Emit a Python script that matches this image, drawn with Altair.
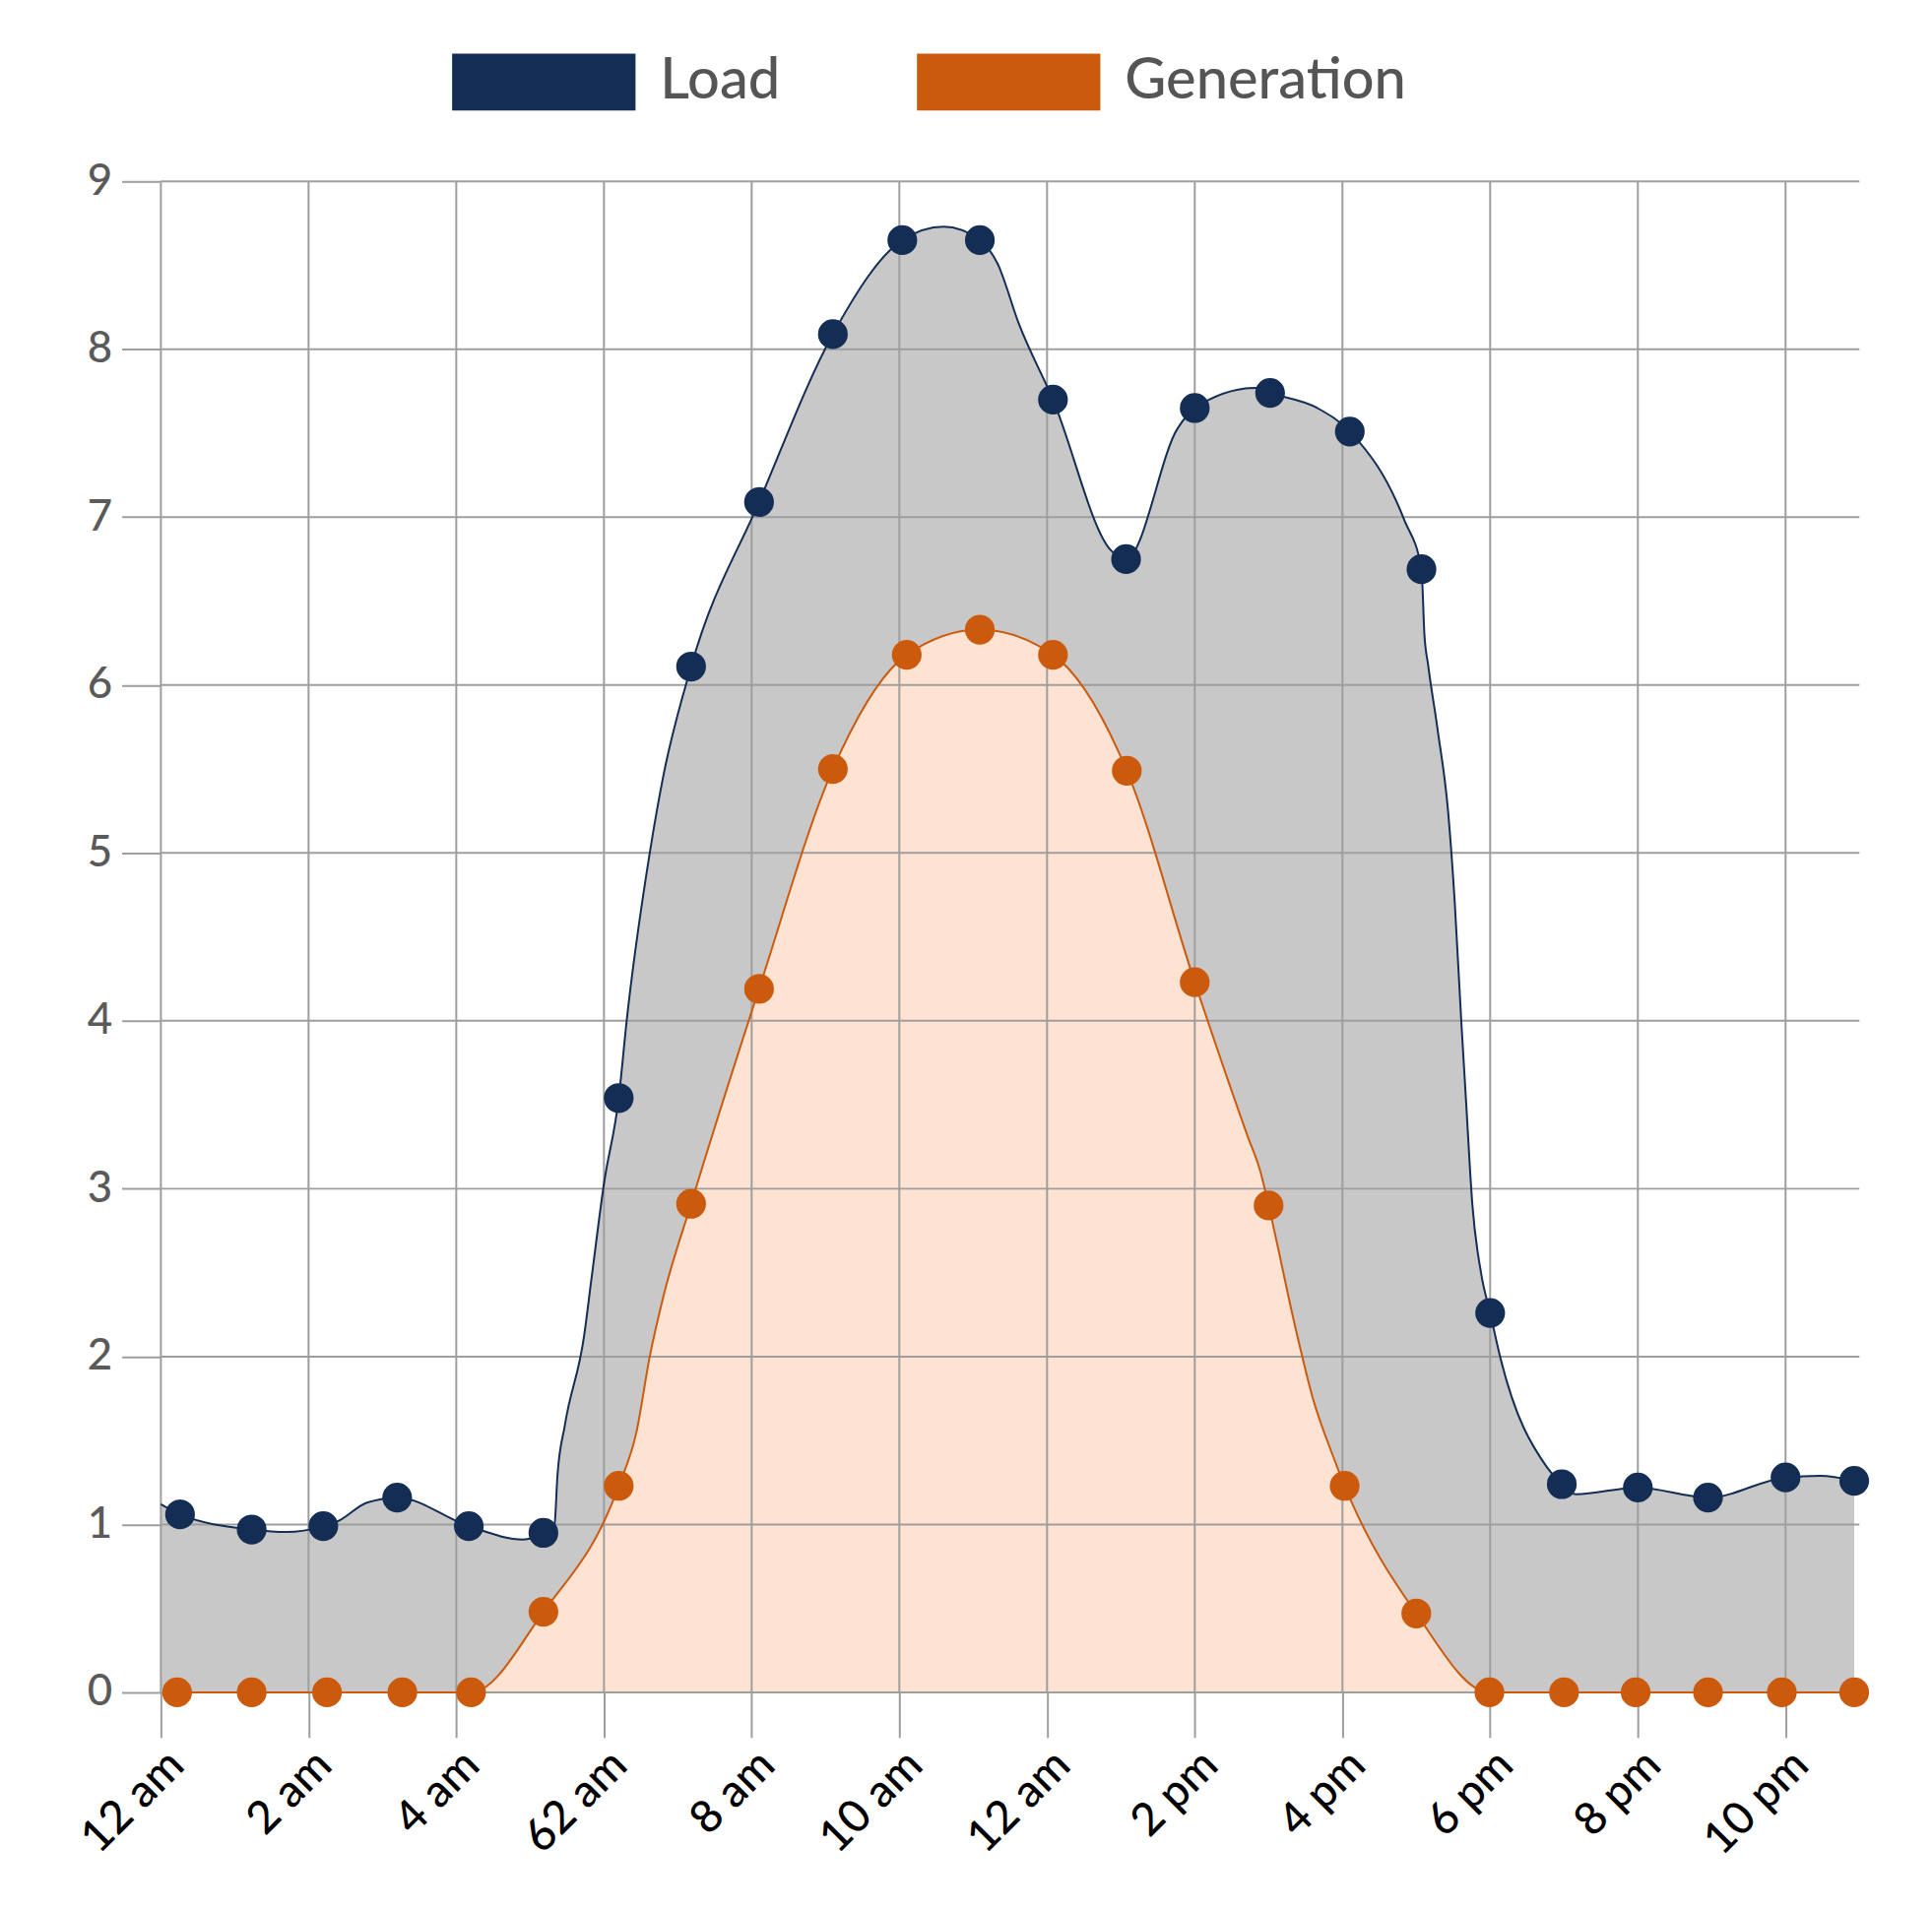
import json
import altair as alt
import pandas as pd

# ---------------- data ----------------
series_names = ["Load", "Generation"]

# hourly markers
load_hours = [0.26, 1.23, 2.2, 3.2, 4.17, 5.18, 6.2, 7.18, 8.1, 9.1, 10.04, 11.09,
              12.08, 13.07, 14.0, 15.02, 16.1, 17.07, 18.0, 18.97, 20.0, 20.95, 22.0, 22.93]
load_values = [1.06, 0.97, 0.99, 1.16, 0.99, 0.95, 3.54, 6.11, 7.09, 8.09, 8.65, 8.65,
               7.70, 6.75, 7.65, 7.74, 7.51, 6.69, 2.26, 1.24, 1.22, 1.16, 1.28, 1.26]

gen_hours = [0.22, 1.23, 2.25, 3.27, 4.2, 5.18, 6.2, 7.18, 8.1, 9.1, 10.1, 11.09,
             12.08, 13.08, 14.0, 15.0, 16.03, 17.0, 17.99, 19.0, 19.97, 20.95, 21.95, 22.93]
gen_values = [0, 0, 0, 0, 0, 0.48, 1.23, 2.91, 4.19, 5.5, 6.18, 6.33,
              6.18, 5.49, 4.23, 2.9, 1.23, 0.47, 0, 0, 0, 0, 0, 0]

# traced curve (denser than the markers)
load_curve_h = [0.0, 0.26, 1.23, 1.7, 2.2, 2.4, 2.79, 3.2, 4.17, 4.9, 5.18, 5.33, 5.37,
                5.47, 5.73, 5.83, 6.0, 6.2, 6.31, 6.62, 6.8, 7.18, 8.1, 9.1, 10.04,
                10.6, 11.09, 11.33, 11.62, 12.08, 12.87, 13.07, 13.77, 14.0, 14.83,
                15.02, 15.66, 16.1, 16.84, 17.07, 17.11, 17.16, 17.29, 17.43, 17.52,
                17.61, 17.67, 17.76, 17.88, 18.0, 18.14, 18.77, 18.97, 19.16, 20.0,
                20.95, 22.0, 22.47, 22.93]
load_curve_v = [1.12, 1.06, 0.97, 0.955, 0.99, 1.02, 1.13, 1.16, 0.99, 0.91, 0.95, 1.0, 1.29,
                1.59, 2.12, 2.46, 3.03, 3.54, 4.01, 5.0, 5.45, 6.11, 7.09, 8.09, 8.65,
                8.73, 8.65, 8.51, 8.15, 7.70, 6.8, 6.75, 7.53, 7.65, 7.77,
                7.74, 7.65, 7.51, 6.98, 6.69, 6.30, 6.12, 5.73, 5.25, 4.71,
                3.99, 3.55, 2.9, 2.49, 2.26, 1.99, 1.34, 1.24, 1.18, 1.22,
                1.16, 1.28, 1.29, 1.26]

gen_curve_h = [0.22, 1.23, 2.25, 3.27, 4.2, 5.18, 6.2, 6.44, 6.62, 6.8, 7.18, 8.1, 9.1,
               10.1, 11.09, 12.08, 13.08, 14.0, 14.71, 14.89, 15.0, 15.38, 15.6, 15.87,
               16.03, 17.0, 17.99, 19.0, 19.97, 20.95, 21.95, 22.93]
gen_curve_v = [0, 0, 0, 0, 0, 0.48, 1.23, 1.55, 2.0, 2.35, 2.91, 4.19, 5.5,
               6.18, 6.33, 6.18, 5.49, 4.23, 3.32, 3.1, 2.9, 2.14, 1.75, 1.41,
               1.23, 0.47, 0, 0, 0, 0, 0, 0]

x_ticks = [0, 2, 4, 6, 8, 10, 12, 14, 16, 18, 20, 22]
x_tick_labels = ["12 am", "2 am", "4 am", "62 am", "8 am", "10 am", "12 am",
                 "2 pm", "4 pm", "6 pm", "8 pm", "10 pm"]
y_ticks = [0, 1, 2, 3, 4, 5, 6, 7, 8, 9]

# ---------------- styling ----------------
NAVY = "#142d55"
ORANGE = "#cc5a0d"
GRAY_FILL = "#c8c8c8"
PEACH_FILL = "#fee3d3"
GRID = "#9e9e9e"
FONT = "Lato"
W, H = 1732, 1541

load_curve = pd.DataFrame({"h": load_curve_h, "v": load_curve_v})
gen_curve = pd.DataFrame({"h": gen_curve_h, "v": gen_curve_v})
dots = pd.DataFrame({
    "h": load_hours + gen_hours,
    "v": load_values + gen_values,
    "series": [series_names[0]] * len(load_hours) + [series_names[1]] * len(gen_hours),
})
gx = pd.DataFrame({"h": x_ticks})
gy = pd.DataFrame({"v": y_ticks})

xscale = alt.Scale(domain=[0, 23], nice=False, zero=False)
yscale = alt.Scale(domain=[0, 9], nice=False)

label_expr = json.dumps(x_tick_labels) + "[round(datum.value / 2)]"

xaxis = alt.Axis(values=x_ticks, labelExpr=label_expr, labelAngle=315, title=None,
                 grid=False, domain=False, ticks=True, tickSize=46, tickWidth=2,
                 tickColor=GRID, labelFont=FONT, labelFontSize=46, labelFontWeight=500,
                 labelColor="#000000", labelPadding=5, labelOverlap=False,
                 labelFlush=False)
yaxis = alt.Axis(values=y_ticks, title=None, grid=False, domain=False, ticks=True,
                 tickSize=40, tickWidth=2, tickColor=GRID, labelFont=FONT,
                 labelFontSize=44, labelFontWeight=500, labelColor="#5a5a5a",
                 labelPadding=10)


def X():
    return alt.X("h:Q", scale=xscale, axis=xaxis)


def Y():
    return alt.Y("v:Q", scale=yscale, axis=yaxis)


load_area = alt.Chart(load_curve).mark_area(interpolate="monotone", color=GRAY_FILL,
                                            opacity=1).encode(x=X(), y=Y())
gen_area = alt.Chart(gen_curve).mark_area(interpolate="monotone", color=PEACH_FILL,
                                          opacity=1).encode(x=X(), y=Y())

grid_v = alt.Chart(gx).mark_rule(color=GRID, strokeWidth=2).encode(
    x=X(), y=alt.value(0), y2=alt.value(H))
grid_h = alt.Chart(gy).mark_rule(color=GRID, strokeWidth=2).encode(
    y=Y(), x=alt.value(0), x2=alt.value(W))

load_line = alt.Chart(load_curve).mark_line(interpolate="monotone", color=NAVY,
                                            strokeWidth=2).encode(x=X(), y=Y())
gen_line = alt.Chart(gen_curve).mark_line(interpolate="monotone", color=ORANGE,
                                          strokeWidth=2).encode(x=X(), y=Y())

legend = alt.Legend(
    title=None, orient="none", legendX=297, legendY=-195, direction="horizontal",
    symbolType="M-1,-0.31L1,-0.31L1,0.31L-1,0.31Z", symbolSize=34969,
    symbolStrokeWidth=0, symbolOpacity=1, labelFont=FONT, labelFontSize=58,
    labelFontWeight=500, labelColor="#555555", labelOffset=25, columnPadding=139,
    padding=0, labelLimit=600,
)

points = alt.Chart(dots).mark_circle(size=920, opacity=1).encode(
    x=X(), y=Y(),
    color=alt.Color("series:N",
                    scale=alt.Scale(domain=series_names, range=[NAVY, ORANGE]),
                    legend=legend),
    order=alt.Order("series:N"),
)

chart = alt.layer(load_area, gen_area, grid_v, grid_h, load_line, gen_line, points).properties(
    width=W, height=H,
    autosize=alt.AutoSizeParams(type="none"),
    padding={"left": 156, "top": 173, "right": 66, "bottom": 218},
    background="white",
).configure_view(strokeWidth=0)

chart.save("out.html", embed_options={"renderer": "svg", "actions": False})
